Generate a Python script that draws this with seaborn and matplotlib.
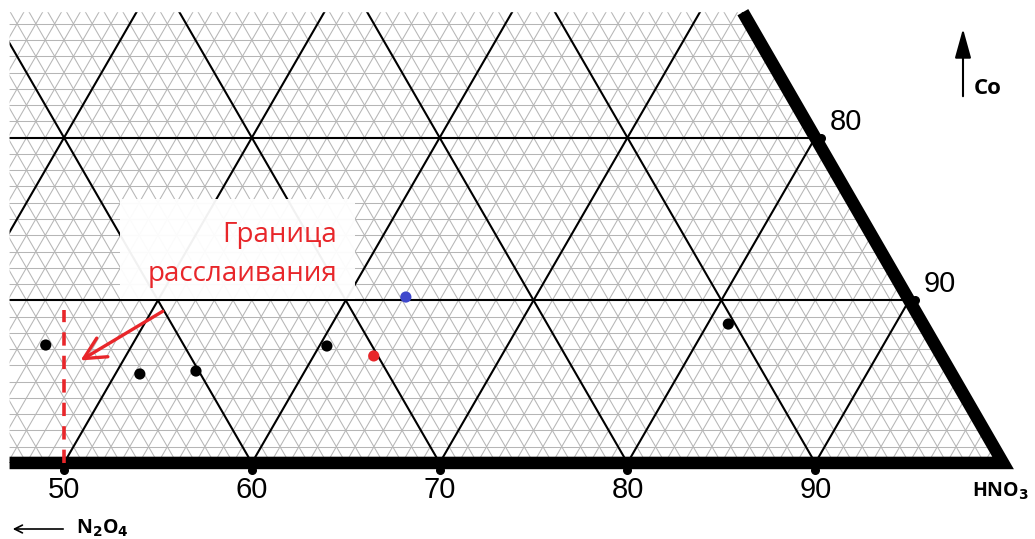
import numpy as np
import pandas as pd
import matplotlib.pyplot as plt
import seaborn as sns
from matplotlib.collections import LineCollection
from matplotlib.patches import Polygon, Rectangle, FancyArrowPatch

# ternary fragment data (mass %)
hno3_ticks = [50, 60, 70, 80, 90]
edge_ticks = [80, 90]
pt_hno3 = [45.4, 51.3, 54.2, 60.4, 81.1, 63.2, 63.1]
pt_co = [7.25, 5.47, 5.65, 7.19, 8.54, 6.58, 10.2]
pt_kind = ['exp', 'exp', 'exp', 'exp', 'exp', 'red', 'blue']
boundary_x = 50          # vertical boundary on the HNO3 scale
boundary_co = [0, 9.4]

S3 = np.sqrt(3) / 2


def to_xy(hno3, co):
    hno3 = np.asarray(hno3, dtype=float)
    co = np.asarray(co, dtype=float)
    return hno3 + co / 2, co * S3


sns.set_style("white")
plt.rcParams['font.family'] = ['Liberation Sans', 'DejaVu Sans']
plt.rcParams['text.color'] = 'black'

fig = plt.figure(figsize=(10.35, 5.39), dpi=100)
ax = fig.add_axes([0, 0, 1, 1])

# clip region: visible part of the triangle
x0, ytop = 47.1, 24.0
clip = Polygon([(x0, 0), (100, 0), (100 - ytop / np.sqrt(3), ytop), (x0, ytop)],
               closed=True, transform=ax.transData, fill=False, lw=0)
ax.add_patch(clip)


def grid_segments(values, skip_n2o4=()):
    segs = []
    for v in values:
        # constant Co
        segs.append([(0, v * S3), (110, v * S3)])
        # constant HNO3
        segs.append([tuple(to_xy(v, 0)), tuple(to_xy(v, 60))])
        # constant N2O4 (HNO3 + Co = 100 - v)
        if v not in skip_n2o4:
            segs.append([tuple(to_xy(100 - v, 0)), tuple(to_xy(100 - v - 60, 60))])
    return segs


minor = [v for v in range(0, 101) if v % 10 != 0]
major = list(range(0, 101, 10))
lc_minor = LineCollection(grid_segments(minor), colors='#b6b6b6', linewidths=0.75, zorder=1)
lc_major = LineCollection(grid_segments(major, skip_n2o4=(50,)), colors='black',
                          linewidths=1.5, zorder=2)
for lc in (lc_minor, lc_major):
    ax.add_collection(lc)
    lc.set_clip_path(clip)

# white label box over the grid
ax.add_patch(Rectangle((52.98, 8.73), 12.5, 5.3, facecolor='white',
                       edgecolor='none', alpha=0.95, zorder=3))

# thick triangle edges
ax.plot([x0, 100, 100 - ytop / np.sqrt(3)], [0, 0, ytop], color='black',
        lw=9, solid_joinstyle='miter', solid_capstyle='butt', zorder=5)

# tick dots and labels
ax.scatter(hno3_ticks, [-0.35] * len(hno3_ticks), s=30, color='black', zorder=6)
for t in hno3_ticks:
    ax.text(t, -1.45, str(t), ha='center', va='center', fontsize=21)
for t in edge_ticks:
    ex, ey = to_xy(t, 100 - t)
    ax.scatter([ex + 0.3], [ey], s=30, color='black', zorder=6)
    ax.text(ex + 0.75, ey + 0.85, str(t), ha='left', va='center', fontsize=21)

# boundary line (vertical)
by = np.asarray(boundary_co) * S3
ax.plot([boundary_x, boundary_x], by, color='#e8262a', lw=2.6,
        ls=(0, (3.7, 2.8)), zorder=6)

# experimental points
px, py = to_xy(pt_hno3, pt_co)
df = pd.DataFrame({'x': px, 'y': py, 'kind': pt_kind})
sns.scatterplot(data=df, x='x', y='y', hue='kind',
                palette={'exp': 'black', 'red': '#e8262a', 'blue': '#3f48cc'},
                s=65, edgecolor='none', legend=False, zorder=7, ax=ax)
ax.set_xlim(46.59, 101.70)
ax.set_ylim(-4.05, 24.65)
ax.axis('off')

# annotation
ax.annotate('', xy=(50.75, 5.38), xytext=(55.38, 8.15),
            arrowprops=dict(arrowstyle='->,head_length=0.6,head_width=0.3',
                            color='#e8262a', lw=2.4, mutation_scale=26), zorder=8)
ax.text(64.53, 11.1, 'Граница\nрасслаивания', ha='right', va='center',
        multialignment='right', color='#e8262a', fontsize=20,
        family=['Open Sans', 'DejaVu Sans'], linespacing=1.55, zorder=8)

# component labels
fig.text(988 / 1035, 1 - 88 / 539, 'Co', ha='center', va='center',
         fontsize=16, weight='bold', family=['Open Sans', 'DejaVu Sans'])
fig.patches.append(FancyArrowPatch(
    (963 / 1035, 1 - 99 / 539), (963 / 1035, 1 - 26 / 539),
    transform=fig.transFigure, arrowstyle='-|>,head_length=0.9,head_width=0.25',
    mutation_scale=20, color='black', lw=1.5))
fig.text(1000 / 1035, 1 - 491 / 539, r'HNO$_\mathbf{3}$', ha='center', va='center',
         fontsize=14, weight='bold', family=['Open Sans', 'DejaVu Sans'])
fig.text(102 / 1035, 1 - 528 / 539, r'N$_\mathbf{2}$O$_\mathbf{4}$', ha='center',
         va='center', fontsize=14, weight='bold', family=['Open Sans', 'DejaVu Sans'])
fig.patches.append(FancyArrowPatch(
    (66 / 1035, 1 - 529 / 539), (10 / 1035, 1 - 529 / 539),
    transform=fig.transFigure, arrowstyle='->', mutation_scale=14,
    color='black', lw=1.2))

fig.savefig('out.png', dpi=100)
